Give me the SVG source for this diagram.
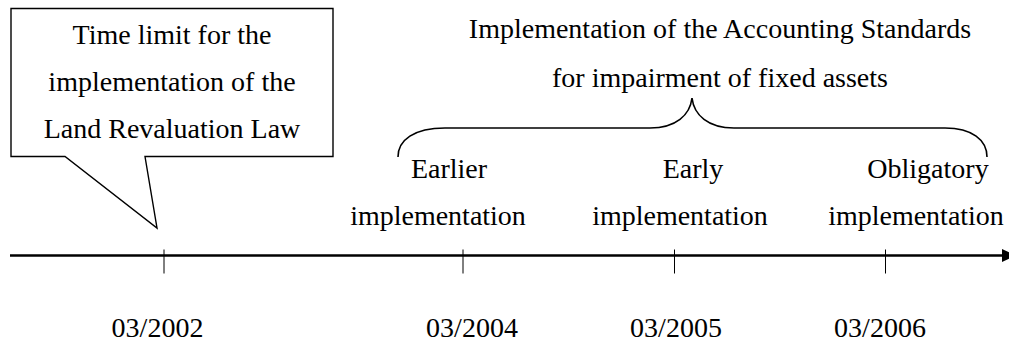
<svg xmlns="http://www.w3.org/2000/svg" width="1009" height="343" viewBox="0 0 1009 343">
<style>
text{font-family:"Liberation Serif","Times New Roman",serif;font-size:28px;fill:#000;text-anchor:middle}
.ln{fill:none;stroke:#000}
</style>
<rect width="1009" height="343" fill="#fff"/>
<g id="callout">
<path class="ln" d="M11,8.5 H333 V156.5 H145 L157,228 L65,156.5 H11 Z" fill="#fff" stroke-width="1.4"/>
<text x="172" y="43.5">Time limit for the</text>
<text x="172" y="90.5">implementation of the</text>
<text x="172" y="137.5">Land Revaluation Law</text>
</g>
<g id="standards">
<text x="720" y="38">Implementation of the Accounting Standards</text>
<text x="720" y="87">for impairment of fixed assets</text>
<path id="brace" class="ln" stroke-width="1.6" d="M398,157 C398,140 414,128 445,128 L650,128 C676,128 690,115 692,98 C694,115 708,128 734,128 L945,128 C972,128 987,140 987,157"/>
</g>
<g id="earlier">
<text x="449" y="178">Earlier</text>
<text x="438" y="225">implementation</text>
</g>
<g id="early">
<text x="693" y="178">Early</text>
<text x="680" y="225">implementation</text>
</g>
<g id="obligatory">
<text x="928" y="178">Obligatory</text>
<text x="916" y="225">implementation</text>
</g>
<g id="connectors">
<line class="ln" x1="10" y1="255.5" x2="1004" y2="255.5" stroke-width="2.6"/>
<polygon points="1002,249 1016,255.5 1002,262" fill="#000"/>
<g class="ln" stroke-width="1">
<line x1="164" y1="249.5" x2="164" y2="273.5"/>
<line x1="463" y1="249.5" x2="463" y2="273.5"/>
<line x1="674.5" y1="249.5" x2="674.5" y2="273.5"/>
<line x1="885.5" y1="249.5" x2="885.5" y2="273.5"/>
</g>
</g>
<g id="dates">
<text x="157.5" y="336.5">03/2002</text>
<text x="472" y="336.5">03/2004</text>
<text x="676" y="336.5">03/2005</text>
<text x="880" y="336.5">03/2006</text>
</g>
</svg>
